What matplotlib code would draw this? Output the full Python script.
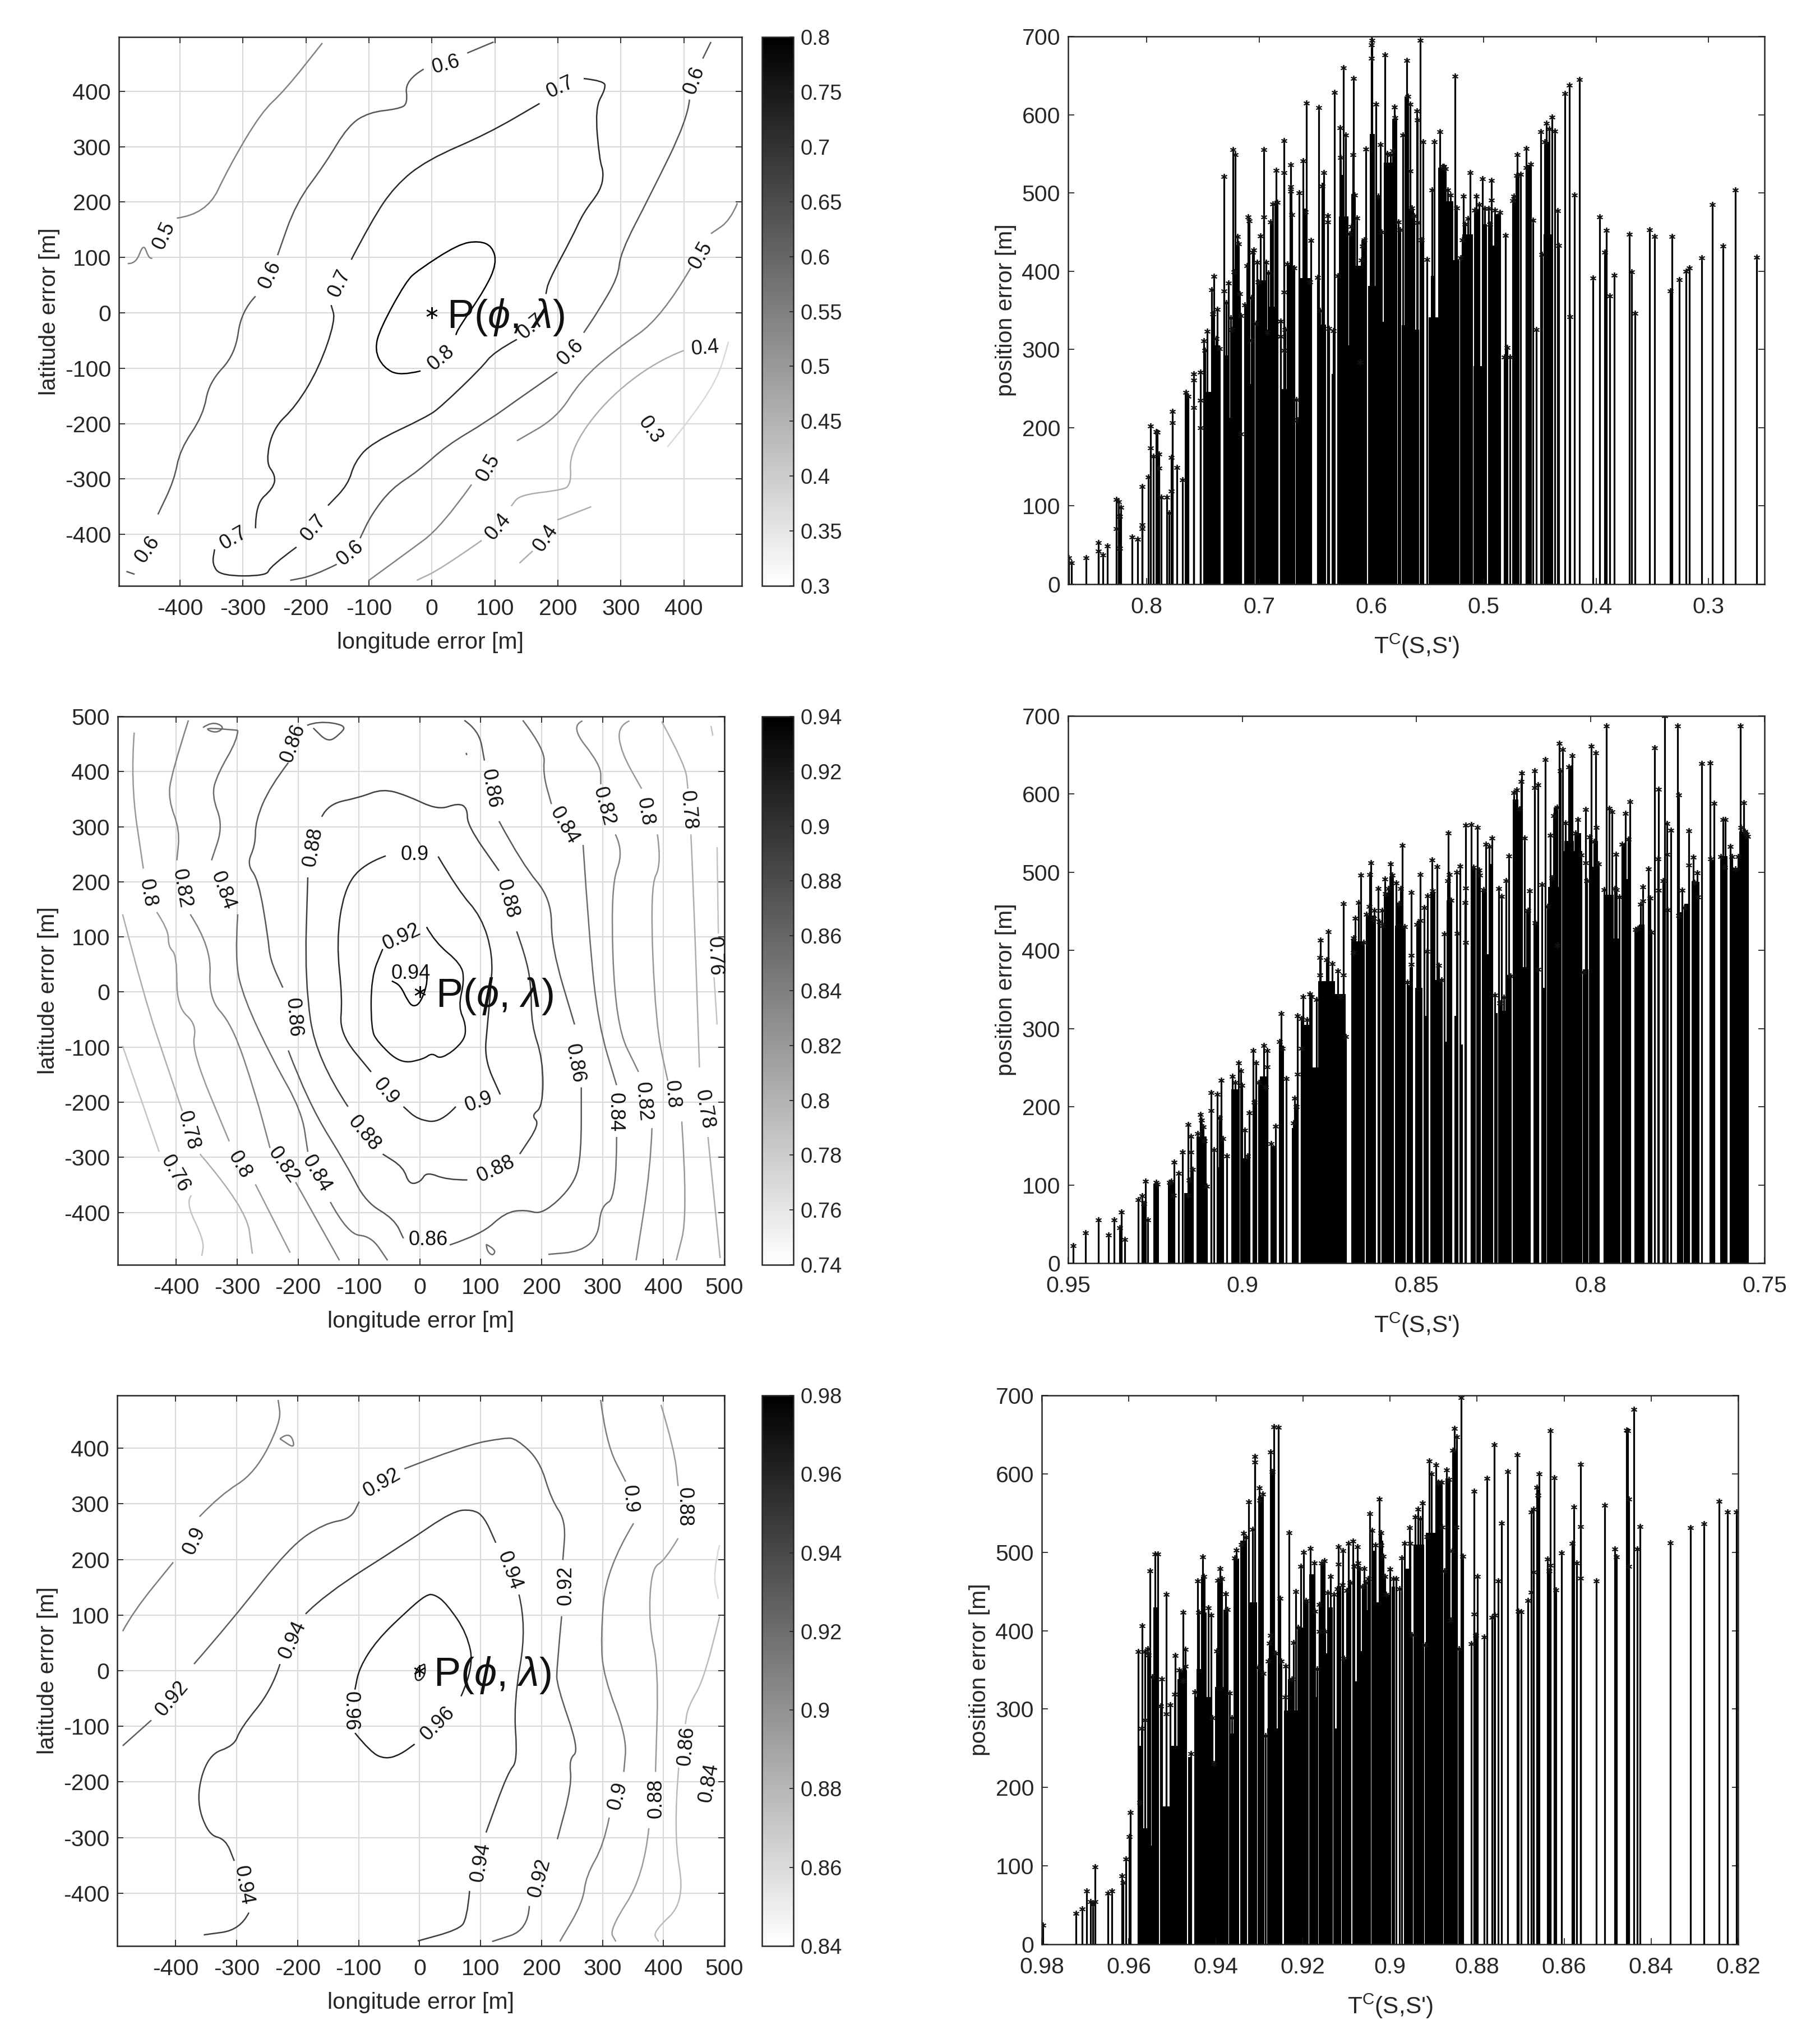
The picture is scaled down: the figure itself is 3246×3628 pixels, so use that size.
import matplotlib
matplotlib.use("Agg")
import matplotlib.pyplot as plt
from matplotlib.colors import Normalize
from matplotlib.cm import ScalarMappable
from matplotlib.path import Path
from matplotlib.patches import PathPatch

plt.rcParams['font.family'] = ['Liberation Sans', 'DejaVu Sans']
plt.rcParams['axes.unicode_minus'] = False
plt.rcParams['mathtext.fontset'] = 'custom'
plt.rcParams['mathtext.rm'] = 'Liberation Sans'
plt.rcParams['mathtext.it'] = 'Liberation Sans:italic'
plt.rcParams['mathtext.bf'] = 'Liberation Sans:bold'

# ---------- panel 1 contours ----------
a05a=[(-483,89),(-470,88),(-458,126),(-450,100),(-444,98)]
a05b=[(-405,171),(-358,178),(-322,264),(-271,362),(-234,401),(-174,487)]
a06a=[(98,489),(56,469)]
a06b=[(-13,440),(-43,420),(-38,377),(-54,368),(-100,362),(-133,338),(-170,268),(-216,198),(-245,104)]
a06c=[(-280,30),(-303,3),(-312,-75),(-354,-126),(-363,-185),(-400,-247),(-409,-302),(-435,-364)]
a06d=[(-472,-472),(-485,-467)]
a07a=[(241,423),(273,419),(276,405),(259,370),(266,276),(273,253),(268,221),(241,182),(222,135),(185,57),(181,34)]
a07b=[(135,-48),(98,-71),(79,-99),(15,-169),(-8,-188),(-96,-235),(-123,-270),(-133,-310),(-165,-348)]
a07c=[(-215,-423),(-257,-458),(-262,-475),(-335,-475),(-349,-454),(-345,-427)]
a07d=[(-280,-389),(-280,-345),(-252,-317),(-248,-294),(-264,-270),(-252,-208),(-216,-169),(-179,-99),(-153,-13),(-160,14)]
a07e=[(-128,96),(-96,166),(-59,229),(-8,276),(88,323),(171,378)]
a08a=[(-18,-105),(-50,-114),(-77,-99),(-91,-67),(-82,-28),(-41,57),(-22,77),(42,124),(75,130),(96,120),(103,89),(84,42),(42,-28),(38,-40)]
a06e=[(443,489),(430,459)]
a06f=[(409,385),(406,350),(347,213),(299,108),(296,65),(264,3),(241,-36)]
a06g=[(199,-107),(149,-146),(88,-196),(24,-239),(-22,-286),(-64,-317),(-96,-364),(-114,-407)]
a06h=[(-151,-454),(-188,-475),(-225,-483)]
a05c=[(485,198),(474,167),(443,143)]
a05d=[(411,81),(365,-9),(291,-67),(236,-122),(199,-189),(135,-231)]
a05e=[(63,-310),(15,-387),(-41,-434),(-100,-483)]
a04a=[(400,-68),(356,-87),(273,-161),(218,-251),(222,-313),(199,-321),(139,-329),(126,-349)]
a04b=[(79,-411),(15,-462),(-24,-483)]
a04c=[(253,-350),(199,-374)]
a04d=[(139,-452),(160,-430)]
a03a=[(374,-242),(402,-204),(453,-122),(471,-52)]
a_lines=[(.5,a05a),(.5,a05b),(.6,a06a),(.6,a06b),(.6,a06c),(.6,a06d),(.7,a07a),(.7,a07b),(.7,a07c),(.7,a07d),(.7,a07e),(.8,a08a),
 (.6,a06e),(.6,a06f),(.6,a06g),(.6,a06h),(.5,a05c),(.5,a05d),(.5,a05e),(.4,a04a),(.4,a04b),(.4,a04c),(.4,a04d),(.3,a03a)]
a_labels=[('0.6',22,448,15),('0.7',204,407,25),('0.6',417,420,70),('0.5',-425,139,65),('0.6',-257,69,65),('0.7',-147,53,65),
 ('0.5',427,104,60),('0.8',15,-82,40),('0.7',158,-25,40),('0.6',220,-71,45),('0.4',434,-64,5),('0.3',347,-212,-55),
 ('0.5',90,-280,60),('0.7',-188,-388,50),('0.4',105,-386,50),('0.4',181,-407,55),('0.6',-130,-434,40),('0.7',-315,-407,30),('0.6',-451,-427,55)]

# ---------- panel 2 contours ----------
b094=[(11,43),(14,20),(1,-20),(-11,-27),(-20,-16),(-32,12),(-46,20)]
b092=[(11,118),(25,90),(68,51),(73,20),(63,-27),(76,-59),(73,-90),(35,-123),(20,-110),(6,-122),(-32,-130),(-70,-90),(-80,-67),(-80,27),(-61,78)]
b090a=[(-56,247),(-94,232),(-125,184),(-137,90),(-127,-12),(-132,-75),(-80,-145)]
b090b=[(30,246),(63,184),(101,137),(120,67),(116,0),(111,-59),(106,-122),(132,-186)]
b090c=[(59,-208),(35,-237),(-3,-232),(-27,-208)]
b088a=[(-161,318),(-151,341),(-99,353),(-61,369),(-22,357),(30,330),(63,343),(78,334),(78,302),(130,220)]
b088b=[(159,110),(173,67),(183,12),(183,-59),(202,-122),(202,-208),(183,-224),(197,-239),(164,-294)]
b088c=[(78,-341),(44,-341),(11,-326),(1,-345),(-18,-349),(-27,-318),(-61,-294)]
b088d=[(-118,-208),(-170,-122),(-189,20),(-184,208)]
b086a=[(-185,484),(-167,492),(-120,484),(-132,467),(-151,453),(-175,479)]
b086b=[(-216,416),(-246,373),(-270,310),(-270,267),(-284,232),(-265,204),(-249,98),(-246,59),(-225,8)]
b086c=[(-216,-106),(-184,-200),(-118,-318),(-89,-381),(-42,-412),(-27,-447)]
b086d=[(49,-459),(101,-440),(140,-400),(173,-395),(202,-404),(254,-349),(265,-294),(265,-173)]
b086e=[(130,310),(168,232),(216,169),(216,82),(254,-59)]
b086f=[(73,493),(97,475),(106,420)]
b086g=[(76,434),(77,430)]
b084h=[(109,-458),(125,-467),(120,-479),(111,-471),(109,-458)]
b084a=[(-299,475),(-299,459),(-332,396),(-342,357),(-323,302),(-342,239)]
b084i=[(-356,480),(-342,491),(-320,481),(-335,469),(-356,480),(-299,475)]
b084b=[(-299,141),(-304,59),(-289,-12),(-242,-122),(-194,-216),(-184,-290)]
b084c=[(-147,-381),(-118,-440),(-80,-443),(-53,-487)]
b084d=[(169,493),(206,440),(202,396),(216,341)]
b084e=[(268,267),(278,98),(293,-59),(323,-169)]
b084f=[(323,-263),(323,-373),(297,-389),(293,-443),(264,-471),(211,-476)]
b082a=[(-380,493),(-408,396),(-413,349),(-394,294),(-399,239)]
b082b=[(-377,141),(-342,82),(-347,-12),(-308,-59),(-270,-184),(-246,-283)]
b082c=[(-204,-345),(-132,-487)]
b082d=[(267,492),(246,483),(297,412),(297,377)]
b082e=[(321,286),(335,255),(313,192),(321,-59),(359,-145)]
b082f=[(381,-247),(379,-318),(355,-487)]
b080a=[(-469,471),(-475,381),(-454,224)]
b080b=[(-432,145),(-413,114),(-413,82),(-399,67),(-399,-27),(-366,-59),(-375,-106),(-313,-271)]
b080c=[(-270,-349),(-213,-473)]
b080d=[(344,492),(325,483),(330,436),(364,369)]
b080e=[(390,286),(397,232),(378,192),(387,-59),(407,-161)]
b080f=[(430,-235),(440,-404),(421,-487)]
b078a=[(-488,141),(-452,-12),(-414,-137),(-390,-216)]
b078b=[(-361,-294),(-285,-392),(-275,-475)]
b078c=[(397,491),(436,412),(440,369)]
b078d=[(445,286),(449,192),(459,-137)]
b078e=[(473,-263),(493,-483)]
b076a=[(-488,-98),(-428,-290)]
b076b=[(-375,-369),(-385,-381),(-354,-451),(-358,-479)]
b076c=[(478,483),(481,465)]
b076d=[(488,263),(490,106)]
b076e=[(483,27),(488,-59)]
b_lines=[(.94,b094),(.92,b092),(.9,b090a),(.9,b090b),(.9,b090c),(.88,b088a),(.88,b088b),(.88,b088c),(.88,b088d),
 (.86,b086a),(.86,b086b),(.86,b086c),(.86,b086d),(.86,b086e),(.86,b086f),(.86,b086g),(.84,b084h),(.84,b084a),(.84,b084i),(.84,b084b),(.84,b084c),(.84,b084d),(.84,b084e),(.84,b084f),
 (.82,b082a),(.82,b082b),(.82,b082c),(.82,b082d),(.82,b082e),(.82,b082f),(.8,b080a),(.8,b080b),(.8,b080c),(.8,b080d),(.8,b080e),(.8,b080f),
 (.78,b078a),(.78,b078b),(.78,b078c),(.78,b078d),(.78,b078e),(.76,b076a),(.76,b076b),(.76,b076c),(.76,b076d),(.76,b076e)]
b_labels=[('0.86',-208,451,70),('0.86',116,369,-80),('0.84',237,302,-60),('0.82',302,337,-75),('0.8',370,327,-80),('0.78',440,330,-85),
 ('0.8',-447,180,-80),('0.82',-391,188,-80),('0.84',-323,184,-70),('0.88',-175,263,80),('0.9',-8,249,0),('0.92',-30,100,25),('0.94',-15,34,0),
 ('0.88',144,169,-75),('0.76',484,65,-88),('0.86',-208,-47,-85),('0.86',254,-130,-80),('0.84',321,-218,-90),('0.82',367,-199,-85),('0.8',414,-186,-85),
 ('0.78',467,-213,-80),('0.78',-380,-251,-75),('0.76',-402,-330,-60),('0.8',-296,-314,-60),('0.82',-224,-314,-55),('0.84',-170,-330,-60),
 ('0.88',-91,-257,-50),('0.9',-56,-181,-50),('0.9',97,-199,20),('0.88',125,-322,25),('0.86',14,-450,0)]

# ---------- panel 3 contours ----------
c096a=[(68,-46),(89,5),(78,67),(44,121),(25,137),(11,137),(-22,106),(-70,55),(-99,5),(-106,-34)]
c096b=[(-106,-112),(-80,-147),(-56,-159),(-32,-151),(-8,-132)]
c096c=[(8,12),(11,-3),(1,-19),(-8,-15),(-5,5),(8,12)]
c094a=[(-229,12),(-242,-34),(-294,-104),(-304,-135),(-347,-151),(-367,-229),(-347,-295),(-318,-303),(-304,-342)]
c094b=[(-280,-435),(-294,-466),(-354,-475)]
c094c=[(-187,102),(-156,137),(-22,230),(54,287),(87,290),(106,277),(125,230)]
c094d=[(163,137),(176,79),(154,-58),(161,-163),(145,-182),(109,-291)]
c094e=[(82,-396),(78,-447),(63,-466),(-3,-486)]
c092a=[(-487,-135),(-440,-89)]
c092b=[(-370,12),(-308,90),(-213,223),(-156,265),(-113,273),(-99,304)]
c092c=[(-25,363),(73,405),(140,419),(159,417),(197,378),(216,308),(240,269),(235,199)]
c092d=[(233,98),(225,5),(225,-26),(262,-143),(245,-159),(250,-205),(226,-303)]
c092e=[(180,-423),(178,-466),(119,-487)]
c090a=[(-487,71),(-470,106),(-404,195)]
c090b=[(-361,277),(-327,316),(-270,355),(-227,448),(-232,487)]
c090c=[(-229,417),(-213,431),(-203,398),(-229,417)]
c090d=[(297,487),(306,409),(338,340)]
c090e=[(351,265),(306,184),(297,59),(302,-11),(340,-120),(335,-182)]
c090f=[(311,-264),(302,-314),(273,-369),(268,-416),(230,-487)]
c088a=[(396,478),(418,398),(424,332)]
c088b=[(424,238),(403,199),(380,184),(376,82),(392,5),(387,-182)]
c088c=[(376,-283),(368,-369),(311,-466),(322,-487)]
c086a=[(492,98),(469,-11),(440,-65),(436,-96)]
c086b=[(425,-174),(416,-291),(436,-416),(382,-470),(392,-487)]
c084a=[(492,226),(481,176),(490,129)]
c_lines=[(.96,c096a),(.96,c096b),(.96,c096c),(.94,c094a),(.94,c094b),(.94,c094c),(.94,c094d),(.94,c094e),
 (.92,c092a),(.92,c092b),(.92,c092c),(.92,c092d),(.92,c092e),(.9,c090a),(.9,c090b),(.9,c090c),(.9,c090d),(.9,c090e),(.9,c090f),
 (.88,c088a),(.88,c088b),(.88,c088c),(.86,c086a),(.86,c086b),(.84,c084a)]
c_labels=[('0.96',-113,-73,-90),('0.96',30,-95,45),('0.94',-208,55,65),('0.94',147,180,-70),('0.94',100,-345,80),('0.94',-289,-386,-80),
 ('0.92',-406,-50,50),('0.92',-62,338,30),('0.92',240,153,90),('0.92',197,-373,75),('0.9',-369,234,65),('0.9',345,308,-85),('0.9',325,-225,75),
 ('0.88',434,294,-90),('0.88',388,-230,90),('0.86',438,-135,85),('0.84',475,-201,80)]

# ---------- stems, T^C value vs. position error ----------
r1_stems_a=[(.8695,34),(.867,27),(.854,34),(.843,53),(.843,42),(.839,37),(.835,49),(.827,108),(.825,105),(.823,98),(.827,71),(.824,87),(.824,46),(.813,60),(.808,57),(.804,76),(.804,125),(.804,71),(.7985,137),(.7965,202),(.7965,174),(.794,163),(.7915,195),
(.7906,194),(.789,166),(.789,148),(.787,111),(.782,111),(.78,91),(.778,119),(.777,221),(.777,206),(.778,162),(.773,149),(.768,133),(.765,245),(.763,240),(.758,269),(.758,261),(.758,226),(.752,271),(.752,235),(.752,200),
(.749,311),(.748,299),(.746,323),(.742,376),(.740,393),(.741,345),(.737,351),(.738,314),(.735,301),(.731,521),(.731,375),(.727,385),(.729,360),(.725,340),(.724,325),(.723,555),(.721,549),(.719,444),(.718,435),(.722,399),(.717,371),(.716,343),(.716,192),
(.710,469),(.709,464),(.711,407),(.713,357),(.707,366),(.707,312),(.705,427),(.706,424),(.702,411),(.703,333),(.696,555),(.696,469),(.699,445),(.694,411),(.692,398),(.701,386),(.693,322),(.688,486),(.690,463),(.685,529),(.684,488),(.678,567),(.678,526),(.672,536),(.672,508),(.672,502),(.671,472),(.675,409),(.669,404),(.678,373),(.681,336),(.677,325),(.681,317),(.678,299),(.667,236),(.666,210)]
r1_stems_b=[(.6641,500),(.661,541),(.658,615),(.654,439),(.655,386),(.659,476),(.647,609),(.644,509),(.6425,526),(.639,471),(.639,463),(.648,392),(.646,350),(.638,327),(.634,324),(.633,628),(.628,583),(.6275,545),(.625,660),(.623,574),(.630,394),(.616,646),(.6165,549),(.615,497),(.613,468),(.618,457),(.6195,448),(.610,284),(.605,556),(.6062,440),(.6087,414),(.608,432),
(.5995,695),(.600,689),(.600,672),(.596,613),(.594,496),(.592,562),(.591,450),(.588,676),(.586,550),(.581,554),(.583,549),(.5795,610),(.579,596),(.576,463),(.5746,453),(.572,574),(.5687,669),(.5676,623),(.5655,613),(.5655,528),(.5638,481),(.562,471),(.5596,605),(.559,593),(.559,462),(.5566,695),(.554,565),(.5555,440),(.5505,415),(.546,504),(.544,565),(.539,578),(.5355,534)]
r1_stems_c=[(.5364,534),(.534,531),(.532,504),(.5294,497),(.5255,649),(.524,481),(.5206,417),(.518,496),(.5164,460),(.514,467),(.512,526),(.519,440),(.508,478),(.5064,496),(.504,485),(.501,518),(.499,480),(.4956,480),(.493,516),(.493,491),(.4947,460),(.490,478),(.4856,475),(.4806,446),(.479,302),(.4814,290),(.4765,290),(.474,490),(.473,496),(.470,549),(.4706,522),(.4673,524),(.4623,557),(.4623,532),(.458,537),(.456,465),(.453,325),(.449,578),(.4457,565),(.444,589),(.448,421),(.4415,582),(.439,597),(.4365,579),(.434,477),(.433,433),(.4279,627),(.4235,638),(.423,342),(.419,497),(.4145,645),
(.403,391),(.397,469),(.3907,452),(.3924,424),(.388,368),(.384,395),(.3703,447),(.3683,399),(.3653,346),(.3522,453),(.348,444),(.334,375),(.3325,444),(.326,389),(.320,400),(.317,404),(.306,417),(.2966,485),(.287,432),(.2758,504),(.2572,418)]
r1_blocks=[(.766,.7635,243),(.749,.7427,246),(.7427,.7347,305),(.7319,.726,292),(.726,.723,213),(.7219,.7174,434),(.7131,.7077,358),(.7077,.7044,256),(.7002,.6927,388),(.6914,.6831,355),(.69,.6878,463),(.6861,.6831,490),(.6815,.6686,249),(.6736,.6686,407),(.6728,.6703,506),(.6644,.6531,391),(.6611,.6578,480),(.6486,.6403,332),(.6445,.642,513),(.6353,.632,269),(.6304,.6195,305),(.6287,.6204,470),(.6270,.6237,523),(.6187,.6087,407),(.6179,.6145,499),(.6145,.6045,282),(.6087,.6045,440),(.6029,.5937,381),(.6012,.5971,575),(.5954,.5921,496),(.5937,.5779,335),(.5888,.5813,539),(.5813,.5771,595),(.5704,.5671,623),(.5729,.5638,331),(.5671,.5621,480),(.5613,.5576,325),(.5488,.533,341),(.5405,.533,532),
(.5472,.543,394),(.5397,.533,529),(.533,.5272,489),(.5272,.5214,414),(.5189,.5097,447),(.5089,.4973,279),(.5081,.5039,479),(.5014,.4973,460),(.4947,.4898,433),(.4889,.4844,473),(.4814,.4789,292),(.4745,.469,493),(.4715,.4681,522),(.4623,.4573,536),(.4468,.4382,447),(.4457,.4423,565)]

r2_stems_a=[(.9486,22),(.945,39),(.9413,55),(.9384,36),(.9368,55),(.9352,45),(.9347,65),(.9338,30),(.9298,81),(.9287,86),(.9278,105),(.9282,76),(.9271,55),(.9247,103),(.9244,101),(.9208,103),(.9203,105),(.9198,87),(.9195,129),(.9182,115),(.9171,142),(.9155,177),(.9155,87),(.9147,162),(.9147,142),(.9143,120),(.9152,106),(.9128,166),(.9120,190),(.9116,183),(.9112,174),(.9108,156),(.9103,98),(.909,218),(.909,195),(.9081,145),(.9071,216),(.906,234),(.9065,186),(.9055,159),(.9044,137),(.9028,239),(.902,231),(.9011,256),(.9004,246),(.9001,227),(.8992,170),(.8985,137),(.898,192),(.8968,272),(.8965,206),(.896,256),(.8953,231),(.8938,278),(.8928,272),(.8928,251),(.8933,225),(.8917,153),(.8904,175),(.8888,319),(.8893,283),(.8885,275),(.8874,236),
(.8853,179),(.885,211),(.8845,200),(.8842,316),(.8841,242),(.883,275),(.8826,341),(.883,313),(.8814,311),(.8806,344),(.8801,341),(.8787,337),(.8776,413),(.8777,391),(.8777,369),(.8758,388),(.8753,424),(.8742,383),(.8726,374),(.8718,341),(.871,460),(.8709,369),(.8703,290)]
r2_stems_b=[(.8681,416),(.868,397),(.8676,441),(.8666,461),(.8660,496),(.8652,410),(.8644,446),(.8636,456),(.8631,512),(.8633,497),(.8620,451),(.8622,441),(.8609,479),(.8607,437),(.8598,451),(.8596,432),(.8590,491),(.8588,473),(.8580,479),(.8574,511),(.8569,496),(.8558,486),(.8550,460),(.8545,479),(.8540,534),(.8534,430),(.8526,359),(.8515,474),(.8515,394),(.8515,382),(.8499,433),(.8489,438),(.8489,497),(.8478,455),(.8468,470),(.8470,399),(.8455,516),(.8453,476),(.8440,507),(.8435,381),(.8427,362),(.8420,421),(.8408,550),(.8410,489),(.8405,497),(.8400,464),(.8384,500),(.8382,422),(.8374,508),(.8359,560),(.8359,480),(.8360,461),(.8359,410),(.8342,561),(.8335,506),(.8325,557),(.8319,503),(.8318,496),(.8306,478),(.8301,536),(.8290,533),(.8282,544),(.8263,479),(.8255,469),(.8274,343),(.8260,333),(.8248,340),(.8243,489),(.8235,521),(.8230,367)]
r2_stems_c=[(.8220,602),(.8212,605),(.8204,581),(.8197,627),(.8199,616),(.8190,544),(.8174,476),(.8180,451),(.8161,630),(.8161,608),(.8151,612),(.8158,435),(.8150,376),(.8139,484),(.8130,644),(.8123,456),(.8115,547),(.8110,493),(.8106,572),(.8096,583),(.8090,665),(.8086,630),(.8079,657),(.8094,407),(.8071,563),(.8062,635),(.8052,649),(.8042,550),(.8036,567),(.8027,522),(.8020,372),(.8014,580),(.8013,512),(.8011,489),(.8003,545),(.7997,661),(.7984,653),(.7983,557),(.7989,539),(.7976,511),(.7960,478),(.7954,687),(.7946,582),(.7938,577),(.7930,479),(.7925,478),(.7927,523),(.7917,468),(.7909,536),(.7899,575),(.7892,542),(.7886,590),(.7871,427),
(.7864,428),(.7856,459),(.7849,463),(.7849,481),(.7834,504),(.7826,423),(.7829,467),(.7816,659),(.7805,606),(.7806,517),(.7805,477),(.7792,489),(.7786,700),(.7780,562),(.7780,523),(.7778,452),(.7769,554),(.7749,687),(.7746,599),(.7746,445),(.7737,477),(.7730,455),(.7717,553),(.7717,509),(.7705,519),(.7702,487),(.7694,499),(.7691,468),(.7681,639),(.7657,640),(.7654,517),(.7645,588),(.7626,520),(.7619,567),(.7613,567),(.7614,506),(.7598,533),(.7594,520),(.7583,504),(.7570,687),(.7575,520),(.7567,557),(.7559,589),(.7556,552),(.7551,549),(.7548,546)]
r2_blocks=[(.9255,.9239,101),(.9214,.9195,103),(.9166,.9144,90),(.9131,.9103,162),(.9071,.9052,123),(.9031,.9011,222),(.9004,.8976,134),(.8949,.8928,239),(.8917,.8904,150),(.8893,.888,278),(.8858,.8838,173),(.883,.8806,305),(.8801,.8699,250),(.8782,.8734,361),(.8734,.8703,344),
(.8686,.8679,415),(.8675,.8648,412),(.8643,.8616,445),(.8593,.8564,428),(.8593,.8582,474),(.8578,.8564,494),(.8561,.8532,432),(.8554,.8539,460),(.8528,.8509,356),(.8519,.851,379),(.8503,.8482,352),(.8499,.8486,438),(.8479,.8464,316),(.8459,.8446,474),(.8445,.8427,362),(.8421,.84,283),(.8413,.84,464),(.8391,.838,316),(.8376,.8366,280),(.8344,.833,504),(.8327,.8315,504),(.8311,.8279,395),(.8311,.83,478),(.8292,.8279,511),(.8274,.8266,320),(.8256,.8228,323),(.8241,.8231,369),(.8223,.8196,491),(.8223,.8207,593),(.8207,.8199,583),(.8196,.8172,379),(.8185,.8174,451),(.8164,.815,435),(.8141,.8126,352),(.8121,.8089,481),(.8105,.8094,583),(.808,.8024,527),(.8075,.8048,540),(.8064,.8049,636),(.8046,.8027,550),(.8022,.8005,376),(.8016,.8008,491),(.8003,.7974,507),(.7986,.7978,540),(.796,.7933,471),(.7933,.7917,415),(.7901,.7885,491),(.7909,.7901,537),(.7874,.7866,427),(.7861,.7845,433),(.7749,.7737,449),(.773,.7714,460),(.771,.7686,488),(.7657,.7641,516),(.7626,.7606,521),(.7598,.7575,505),(.7572,.7546,552)]

r3_stems_a=[(.9798,24),(.9721,39),(.9707,45),(.9697,68),(.9688,54),(.9683,51),(.9677,99),(.9678,54),(.9648,65),(.9639,68),(.9616,87),(.9613,79),(.9607,109),(.9599,137),(.9596,168),(.9578,373),(.9575,181),(.9569,406),(.9571,275),(.9563,373),(.9563,286),(.9556,377),(.9552,476),(.9555,369),(.9546,341),(.9540,498),(.9533,498),(.9524,338),(.9514,446),(.9527,304),(.9505,305),(.9514,294),(.9493,368),(.9495,319),(.9485,350),(.9476,423),(.9470,376),(.9470,355),(.9476,336),(.9457,243)]
r3_stems_b=[(.9448,322),(.9442,463),(.9430,494),(.9428,469),(.9439,423),(.9418,429),(.9411,420),(.9390,479),(.9396,464),(.9386,466),(.9378,447),(.9374,427),(.9398,374),(.9369,320),(.9363,289),(.9404,230),(.9409,289),(.9353,503),(.9357,493),(.9342,510),(.9336,524),(.9331,519),(.9325,564),(.9316,529),(.9310,622),(.9310,615),(.9300,582),(.9293,574),(.9299,566),(.9303,353),(.9291,345),(.9275,628),(.9271,603),(.9267,660),(.9256,659),(.9275,394),(.9277,384),(.9280,361),(.9263,371),(.9286,266),(.9253,441),(.9250,361),(.9239,355),(.9241,315),(.9232,525),(.9226,338),(.9221,385),(.9217,450),(.9211,404),(.9205,482),(.9198,500),(.9183,505),(.9193,438),(.9174,486),(.9172,425),(.9168,351),(.9157,486),(.9151,489),(.9162,433),(.9162,399),(.9149,399),(.9143,448),(.9136,469),(.9129,446),(.9121,453),(.9118,507),(.9119,485),(.9108,502),(.9110,458),(.9106,365)]
r3_stems_c=[(.9099,451),(.9095,511),(.9091,461),(.9085,514),(.9082,482),(.9075,507),(.9074,486),(.9069,479),(.9059,479),(.9063,456),(.9056,461),(.9050,466),(.9047,549),(.9041,528),(.9033,509),(.9025,568),(.9020,525),(.9020,509),(.9016,495),(.9011,469),(.9009,446),(.9000,478),(.8992,466),(.8986,466),(.8978,453),(.8973,493),(.8966,511),(.8955,531),(.8953,511),(.8950,395),(.8942,545),(.8936,555),(.8925,563),(.8930,543),(.8919,382),(.8915,520),(.8910,616),(.8905,600),(.8895,611),(.8889,589),(.8882,589),(.8880,532),(.8875,476),(.8870,605),(.8865,593),(.8861,413),(.8856,630),(.8852,658),(.8847,647),(.8848,532),(.8857,502),(.8837,697),(.8833,495),(.8842,377),
(.8813,383),(.8807,578),(.8807,421),(.8803,394),(.8799,469),(.8784,392),(.8777,594),(.8761,637),(.8765,417),(.8759,420),(.8752,463),(.8743,537),(.8730,603),(.8708,624),(.8705,425),(.8698,424),(.8683,438),(.8676,551),(.8676,449),(.8670,555),(.8670,475),(.8662,583),(.8657,600),(.8660,573),(.8638,491),(.8632,655),(.8634,476),(.8632,483),(.8622,595),(.8619,452),(.8606,499),(.8578,558),(.8581,511),(.8571,486),(.8562,612),(.8562,533),(.8562,467),(.8526,463),(.8507,560),(.8483,504),(.8479,494),(.8457,656),(.8454,655),(.8451,568),(.8451,482),(.8439,682),(.8432,504),(.8425,533),(.8356,512),(.8309,531),(.8279,536),(.8244,565),(.8225,551),(.8204,551)]
r3_blocks=[(.958,.9571,253),(.9569,.9552,148),(.9543,.9533,430),(.9552,.9531,126),(.9523,.9476,176),(.9502,.9476,253),(.9483,.9466,350),
(.9488,.9467,338),(.9475,.9467,354),(.9464,.9456,239),(.9447,.9411,315),(.9434,.9421,423),(.9434,.9424,469),(.9445,.9434,351),(.9402,.9372,328),(.9396,.9385,466),(.9383,.9374,427),(.937,.9346,269),(.9359,.9346,492),(.9344,.9329,515),(.9326,.9305,436),(.9325,.9308,239),(.9303,.929,571),(.9282,.925,275),(.9269,.926,371),(.9258,.925,443),(.9243,.9213,298),(.9235,.9226,338),(.9211,.9187,351),(.9211,.92,404),(.92,.9187,440),(.9185,.9166,315),(.9185,.9174,472),(.9164,.9132,371),(.916,.9151,486),(.9144,.9132,430),(.9129,.9112,275),(.9123,.9112,456),(.9106,.9091,364),(.9099,.9091,453),(.9086,.9074,335),(.9071,.9046,374),(.9059,.9046,426),(.9041,.9011,436),(.9026,.9016,515),(.9041,.9031,502),(.9008,.8998,446),(.8996,.8988,456),(.8968,.8951,479),(.8946,.8921,510),(.8917,.8878,525),(.8895,.888,591),(.8872,.8861,594),(.8857,.8846,630),(.8842,.8831,377),(.8663,.8655,580)]

# ---------- axes settings ----------
geo_xt=[-400,-300,-200,-100,0,100,200,300,400]
geo_xt_full=geo_xt+[500]
geo_yt=[-400,-300,-200,-100,0,100,200,300,400]
geo_yt_full=geo_yt+[500]
cb1_t=[.3,.35,.4,.45,.5,.55,.6,.65,.7,.75,.8]
cb1_l=['0.3','0.35','0.4','0.45','0.5','0.55','0.6','0.65','0.7','0.75','0.8']
cb2_t=[.74,.76,.78,.8,.82,.84,.86,.88,.9,.92,.94]
cb2_l=['0.74','0.76','0.78','0.8','0.82','0.84','0.86','0.88','0.9','0.92','0.94']
cb3_t=[.84,.86,.88,.9,.92,.94,.96,.98]
cb3_l=['0.84','0.86','0.88','0.9','0.92','0.94','0.96','0.98']
r1_xt=[.8,.7,.6,.5,.4,.3]; r1_xl=['0.8','0.7','0.6','0.5','0.4','0.3']
r2_xt=[.95,.9,.85,.8,.75]; r2_xl=['0.95','0.9','0.85','0.8','0.75']
r3_xt=[.98,.96,.94,.92,.9,.88,.86,.84,.82]; r3_xl=['0.98','0.96','0.94','0.92','0.9','0.88','0.86','0.84','0.82']
err_t=[0,100,200,300,400,500,600,700]

W,H=3246,3628
DK='#262626'
FS=29.5
ASTER=(6,2,0)
fig=plt.figure(figsize=(W/100,H/100),dpi=100,facecolor='white')

def box(l,t,r,b):
    return fig.add_axes([l/W,1-b/H,(r-l)/W,(b-t)/H])

def style(ax):
    for s in ax.spines.values():
        s.set_color(DK); s.set_linewidth(1.8)
    ax.tick_params(direction='in',length=8,width=1.3,color=DK,labelcolor=DK,labelsize=FS,top=True,right=True,pad=10)
    ax.tick_params(axis='x',pad=16)
    ax.xaxis.label.set_color(DK); ax.yaxis.label.set_color(DK)

def rounded(pts):
    # quadratic curve through the midpoints of the read polyline: rounds its corners
    if len(pts)<3:
        return Path(pts)
    verts=[pts[0]]; codes=[Path.MOVETO]
    for i in range(1,len(pts)-1):
        verts+=[pts[i],((pts[i][0]+pts[i+1][0])/2,(pts[i][1]+pts[i+1][1])/2)]
        codes+=[Path.CURVE3,Path.CURVE3]
    verts.append(pts[-1]); codes.append(Path.LINETO)
    return Path(verts,codes)

def geo(rect,cbrect,lines,labels,vmin,vmax,xlim,ylim,xt,yt,ct,cl,ptx):
    ax=box(*rect); style(ax)
    ax.set_xlim(*xlim); ax.set_ylim(*ylim)
    ax.set_xticks(xt); ax.set_yticks(yt)
    ax.grid(True,color='#d9d9d9',lw=1.5); ax.set_axisbelow(True)
    for lev,pts in lines:
        g=0.85*(1-(lev-vmin)/(vmax-vmin))
        ax.add_patch(PathPatch(rounded(pts),fill=False,edgecolor=str(g),lw=1.8))
    for s,x,y,r in labels:
        ax.text(x,y,s,fontsize=26,color='#111111',rotation=r,ha='center',va='center',rotation_mode='anchor')
    ax.plot([0],[0],marker=ASTER,ms=15,color='k',mew=1.6,ls='none')
    ax.text(ptx,-8,r'P($\phi$, $\lambda$)',fontsize=52,color='#111111',ha='left',va='center')
    ax.set_xlabel('longitude error [m]',fontsize=FS,labelpad=16)
    ax.set_ylabel('latitude error [m]',fontsize=FS,labelpad=6)
    cax=box(*cbrect)
    sm=ScalarMappable(norm=Normalize(vmin,vmax),cmap='gray_r')
    cb=fig.colorbar(sm,cax=cax)
    cb.set_ticks(ct); cb.set_ticklabels(cl)
    cb.ax.tick_params(direction='in',length=5,width=1.3,color=DK,labelcolor=DK,labelsize=FS-2,pad=9)
    cb.outline.set_edgecolor(DK); cb.outline.set_linewidth(1.8)

def stems(rect,series,blocks,xlim,xt,xl):
    ax=box(*rect); style(ax)
    for s in series:
        t=[p[0] for p in s]; v=[p[1] for p in s]
        ax.vlines(t,0,v,color='k',lw=2.3)
        ax.plot(t,v,ls='none',marker=ASTER,ms=8,color='#111111',mew=1.3)
    ax.bar([(b[0]+b[1])/2 for b in blocks],[b[2] for b in blocks],width=[abs(b[0]-b[1]) for b in blocks],color='k',lw=0)
    ax.set_xlim(*xlim); ax.set_ylim(0,700)
    ax.set_xticks(xt); ax.set_xticklabels(xl); ax.set_yticks(err_t)
    ax.set_xlabel(r"T$^{\mathrm{C}}$(S,S')",fontsize=FS+1,labelpad=18)
    ax.set_ylabel('position error [m]',fontsize=FS,labelpad=7)

geo((212,66,1323,1045),(1359,66,1415,1045),a_lines,a_labels,.3,.8,(-497,492),(-493,498),geo_xt,geo_yt,cb1_t,cb1_l,24)
geo((210,1278,1292,2256),(1359,1278,1415,2256),b_lines,b_labels,.74,.94,(-496,500),(-495,500),geo_xt_full,geo_yt_full,cb2_t,cb2_l,26)
geo((209,2489,1292,3471),(1359,2489,1415,3471),c_lines,c_labels,.84,.98,(-496,500),(-495,495),geo_xt_full,geo_yt,cb3_t,cb3_l,23)
stems((1905,65,3147,1042),[r1_stems_a,r1_stems_b,r1_stems_c],r1_blocks,(.87,.25),r1_xt,r1_xl)
stems((1905,1277,3147,2253),[r2_stems_a,r2_stems_b,r2_stems_c],r2_blocks,(.95,.75),r2_xt,r2_xl)
stems((1858,2489,3100,3468),[r3_stems_a,r3_stems_b,r3_stems_c],r3_blocks,(.98,.82),r3_xt,r3_xl)
fig.savefig('out.png',dpi=100,facecolor='white')
